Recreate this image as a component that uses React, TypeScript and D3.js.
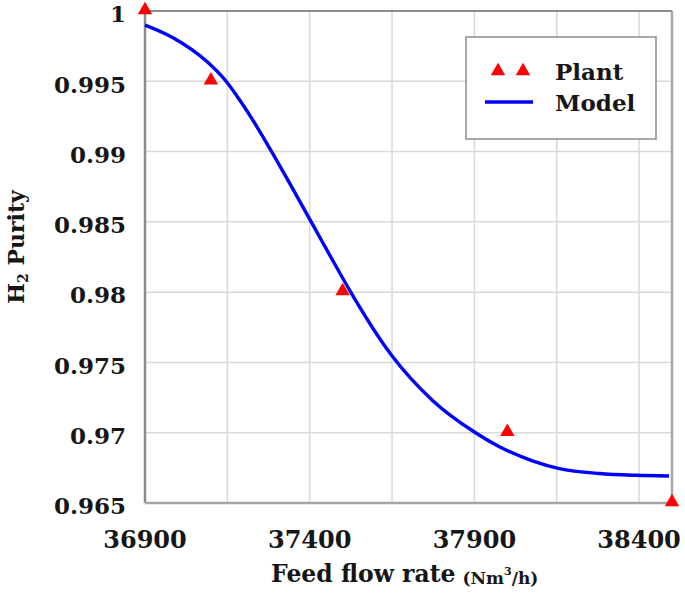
import React from "react";
import * as d3 from "d3";

const plantFlow = [36900, 37100, 37500, 38000, 38500];
const plantPurity = [1.0, 0.995, 0.98, 0.97, 0.965];

const modelFlow = [36900, 36985, 37088, 37148, 37188, 37239, 37288, 37339, 37391, 37439, 37482, 37521, 37648, 37773, 37900, 37976, 38076, 38158, 38279, 38391, 38491];
const modelPurity = [0.999, 0.9981, 0.9964, 0.99495, 0.99365, 0.9918, 0.98985, 0.98775, 0.98557, 0.98355, 0.98175, 0.98015, 0.97553, 0.9723, 0.97005, 0.969, 0.968, 0.96745, 0.9671, 0.96697, 0.96692];

const xTickLabels = [36900, 37400, 37900, 38400];
const xGrid = [37150, 37400, 37650, 37900, 38150, 38400];
const yTicks = [0.965, 0.97, 0.975, 0.98, 0.985, 0.99, 0.995, 1];

const W = 685, H = 595;
const L = 145, R = 672, T = 11, B = 503;
const FONT = "'DejaVu Serif', serif";
const TXT = "#161616";

export default function App() {
  const x = d3.scaleLinear().domain([36900, 38500]).range([L, R]);
  const y = d3.scaleLinear().domain([0.965, 1]).range([B, T]);
  const line = d3.line<number>()
    .x((_, i) => x(modelFlow[i]))
    .y((_, i) => y(modelPurity[i]))
    .curve(d3.curveMonotoneX);
  const tri = d3.symbol().type(d3.symbolTriangle).size(90)() as string;

  return (
    <svg width={W} height={H} style={{ position: "absolute", left: 0, top: 0, background: "#fff" }}>
      <rect x={0} y={0} width={W} height={H} fill="#fff" />
      {/* grid */}
      {xGrid.map((v) => (
        <line key={"gx" + v} x1={x(v)} x2={x(v)} y1={T} y2={B} stroke="#d9d9d9" strokeWidth={1.5} />
      ))}
      {yTicks.filter((v) => v > 0.965 && v < 1).map((v) => (
        <line key={"gy" + v} x1={L} x2={R} y1={y(v)} y2={y(v)} stroke="#d9d9d9" strokeWidth={1.5} />
      ))}
      {/* frame */}
      <line x1={L} x2={R} y1={T} y2={T} stroke="#8c8c8c" strokeWidth={2} />
      <line x1={R} x2={R} y1={T} y2={B} stroke="#a6a6a6" strokeWidth={2.5} />
      <line x1={L} x2={L} y1={T} y2={B} stroke="#8c8c8c" strokeWidth={2.5} />
      <line x1={L} x2={R} y1={B} y2={B} stroke="#a6a6a6" strokeWidth={2.5} />

      {/* model */}
      <path d={line(modelFlow) as string} fill="none" stroke="#0000ff" strokeWidth={3.4} />
      {/* plant */}
      {plantFlow.map((v, i) => (
        <path key={"p" + i} d={tri} transform={`translate(${x(v)},${y(plantPurity[i]) - 1})`} fill="#ff0000" />
      ))}

      {/* y tick labels */}
      {yTicks.map((v) => (
        <text key={"yt" + v} x={126} y={y(v) + 3} dy="0.36em" textAnchor="end" fontFamily={FONT} fontWeight="bold" fontSize={23} fill={TXT}>
          {String(v)}
        </text>
      ))}
      {/* x tick labels */}
      {xTickLabels.map((v) => (
        <text key={"xt" + v} x={x(v)} y={539} dy="0.36em" textAnchor="middle" fontFamily={FONT} fontWeight="bold" fontSize={24} fill={TXT}>
          {String(v)}
        </text>
      ))}
      {/* x title */}
      <text x={271} y={582} fontFamily={FONT} fontWeight="bold" fontSize={23.5} fill={TXT}>
        Feed flow rate
        <tspan fontSize={17} dx={7} dy={2}>(Nm</tspan>
        <tspan fontSize={11} dy={-9}>3</tspan>
        <tspan fontSize={17} dy={9}>/h)</tspan>
      </text>
      {/* y title */}
      <text transform="translate(24,247) rotate(-90)" textAnchor="middle" fontFamily={FONT} fontWeight="bold" fontSize={22} fill={TXT}>
        H<tspan fontSize={14} dy={4}>2</tspan><tspan dy={-4}> Purity</tspan>
      </text>

      {/* legend */}
      <rect x={466} y={37} width={190} height={102} fill="#fff" stroke="#8c8c8c" strokeWidth={1.5} />
      <path d={tri} transform="translate(498,71)" fill="#ff0000" />
      <path d={tri} transform="translate(523,71)" fill="#ff0000" />
      <line x1={485} x2={533} y1={102} y2={102} stroke="#0000ff" strokeWidth={3.4} />
      <text x={555} y={80} fontFamily={FONT} fontWeight="bold" fontSize={23} fill={TXT}>Plant</text>
      <text x={555} y={111} fontFamily={FONT} fontWeight="bold" fontSize={23} fill={TXT}>Model</text>
    </svg>
  );
}
